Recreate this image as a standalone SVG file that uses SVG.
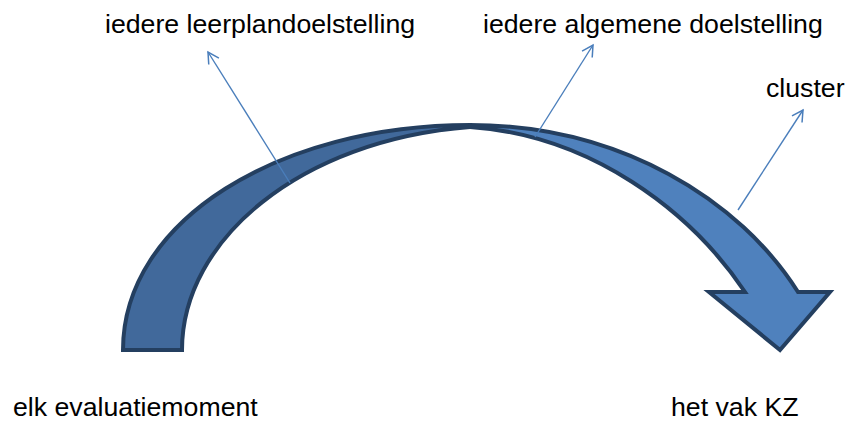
<svg xmlns="http://www.w3.org/2000/svg" width="846" height="421" viewBox="0 0 846 421">
<defs>
<style>
.lbl{font-family:"Liberation Sans",Arial,sans-serif;font-size:26.7px;fill:#000}
.arc{stroke:#243f60;stroke-width:4;stroke-linejoin:miter}
.con{fill:none;stroke:#4a7ebb;stroke-width:1.4}
</style>
<marker id="oa" viewBox="0 0 14 14" refX="12" refY="7" markerWidth="14" markerHeight="14" markerUnits="userSpaceOnUse" orient="auto">
<path d="M1,1 L12,7 L1,13" fill="none" stroke="#4a7ebb" stroke-width="1.5"/>
</marker>
</defs>
<rect width="846" height="421" fill="#fff"/>
<g id="curved-arrow">
<path class="arc" fill="#41699b" d="M123,350 C123,220 280,125 470,125 L470,127 C300,140 182,240 182,350 Z"/>
<path class="arc" fill="#4f81bd" d="M470,125 C620,125 740,200 798,292 L830,292 L780,350 L709,292 L745,292 C690,210 590,135 470,127 Z"/>
</g>
<g id="connectors">
<line class="con" x1="290" y1="183" x2="208" y2="52" marker-end="url(#oa)"/>
<line class="con" x1="535" y1="137" x2="593" y2="45" marker-end="url(#oa)"/>
<line class="con" x1="738" y1="210" x2="803" y2="110" marker-end="url(#oa)"/>
</g>
<g id="label-leerplan"><text class="lbl" x="105" y="33">iedere leerplandoelstelling</text></g>
<g id="label-algemeen"><text class="lbl" x="483" y="33">iedere algemene doelstelling</text></g>
<g id="label-cluster"><text class="lbl" x="766" y="97">cluster</text></g>
<g id="label-evaluatie"><text class="lbl" x="13" y="416">elk evaluatiemoment</text></g>
<g id="label-vak"><text class="lbl" x="671" y="416">het vak KZ</text></g>
</svg>
